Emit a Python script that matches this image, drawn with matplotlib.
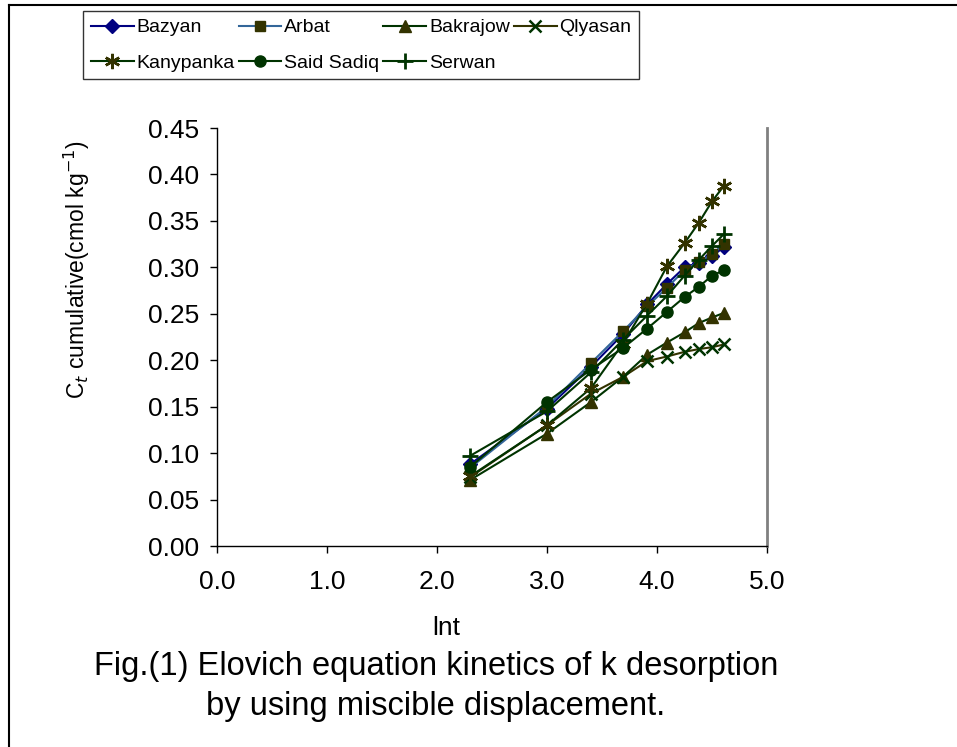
import matplotlib
matplotlib.use("Agg")
import matplotlib.pyplot as plt
from matplotlib.lines import Line2D

plt.rcParams['font.family'] = ['Liberation Sans', 'DejaVu Sans']

# ln t (t = 10 ... 100)
lnt = [2.30, 3.00, 3.40, 3.69, 3.91, 4.09, 4.25, 4.38, 4.50, 4.61]

bazyan = [0.088, 0.148, 0.193, 0.228, 0.260, 0.282, 0.300, 0.305, 0.312, 0.322]
arbat = [0.084, 0.150, 0.197, 0.231, 0.258, 0.278, 0.297, 0.306, 0.314, 0.325]
bakrajow = [0.071, 0.121, 0.155, 0.182, 0.206, 0.219, 0.230, 0.240, 0.246, 0.251]
qlyasan = [0.074, 0.130, 0.164, 0.182, 0.199, 0.204, 0.209, 0.212, 0.214, 0.217]
kanypanka = [0.075, 0.130, 0.170, 0.218, 0.261, 0.301, 0.326, 0.348, 0.371, 0.388]
said_sadiq = [0.085, 0.155, 0.190, 0.213, 0.234, 0.252, 0.268, 0.279, 0.291, 0.297]
serwan = [0.097, 0.145, 0.187, 0.222, 0.248, 0.269, 0.291, 0.308, 0.323, 0.336]

W, H = 957, 747
fig = plt.figure(figsize=(W / 100, H / 100), dpi=100)
ax = fig.add_axes([217 / W, 1 - 546 / H, 550 / W, 418 / H])

def fx(x):
    return x / W

def fy(y):
    return 1 - y / H

dk = '#003300'
ol = '#333300'
ms = 8
h_baz, = ax.plot(lnt, bazyan, color='#000080', lw=1.5, marker='D', ms=7, mfc='#000080', mec='#000080', label='Bazyan')
h_arb, = ax.plot(lnt, arbat, color='#336699', lw=1.5, marker='s', ms=7, mfc=ol, mec=ol, label='Arbat')
h_bak, = ax.plot(lnt, bakrajow, color=dk, lw=1.5, marker='^', ms=ms + 1, mfc=ol, mec=ol, label='Bakrajow')
h_qly, = ax.plot(lnt, qlyasan, color=ol, lw=1.5, marker='x', ms=ms, mec=dk, mew=1.8, label='Qlyasan')
h_kan, = ax.plot(lnt, kanypanka, color=dk, lw=1.5, marker=(6, 2, 0), ms=ms + 3, mec=ol, mew=1.8, label='Kanypanka')
h_sai, = ax.plot(lnt, said_sadiq, color=dk, lw=1.5, marker='o', ms=ms, mfc=dk, mec=dk, label='Said Sadiq')
h_ser, = ax.plot(lnt, serwan, color=dk, lw=1.5, marker='+', ms=ms + 3, mec=dk, mew=2, label='Serwan')

ax.set_xlim(0, 5)
ax.set_ylim(0, 0.45)
ax.set_xticks([0, 1, 2, 3, 4, 5])
ax.set_xticklabels(['0.0', '1.0', '2.0', '3.0', '4.0', '5.0'])
ax.set_yticks([i * 0.05 for i in range(10)])
ax.set_yticklabels(['%.2f' % (i * 0.05) for i in range(10)])
ax.tick_params(direction='out', length=5, width=1, labelsize=19, color='black')
ax.tick_params(axis='x', pad=12)
ax.tick_params(axis='y', pad=8)
ax.spines['top'].set_visible(False)
ax.spines['right'].set_color('#808080')
ax.spines['right'].set_linewidth(2)
for s in ('left', 'bottom'):
    ax.spines[s].set_color('black')
    ax.spines[s].set_linewidth(1)

# legend: filled row by row
handles = [h_baz, h_kan, h_arb, h_sai, h_bak, h_ser, h_qly]
fig.legend(handles=handles, labels=[h.get_label() for h in handles],
           loc='upper left', bbox_to_anchor=(fx(83), fy(11)), ncol=4,
           fontsize=14, frameon=True, fancybox=False, edgecolor='black',
           handlelength=2.2, handletextpad=0.15, columnspacing=0.2,
           labelspacing=0.9, borderpad=0.4, borderaxespad=0)

# y label
fig.text(fx(77), fy(270), r'C$_t$ cumulative(cmol kg$^{-1}$)', rotation=90,
         ha='center', va='center', fontsize=16.5)

fig.text(fx(446), fy(628), 'lnt', ha='center', va='center', fontsize=19)
fig.text(fx(436), fy(667), 'Fig.(1) Elovich equation kinetics of k desorption',
         ha='center', va='center', fontsize=23.5)
fig.text(fx(436), fy(707), 'by using miscible displacement.',
         ha='center', va='center', fontsize=23.5)

# outer frame
fig.add_artist(Line2D([fx(9), 1], [fy(5), fy(5)], color='black', lw=1.5))
fig.add_artist(Line2D([fx(9), fx(9)], [fy(5), 0], color='black', lw=1.5))

fig.savefig('out.png', dpi=100)
